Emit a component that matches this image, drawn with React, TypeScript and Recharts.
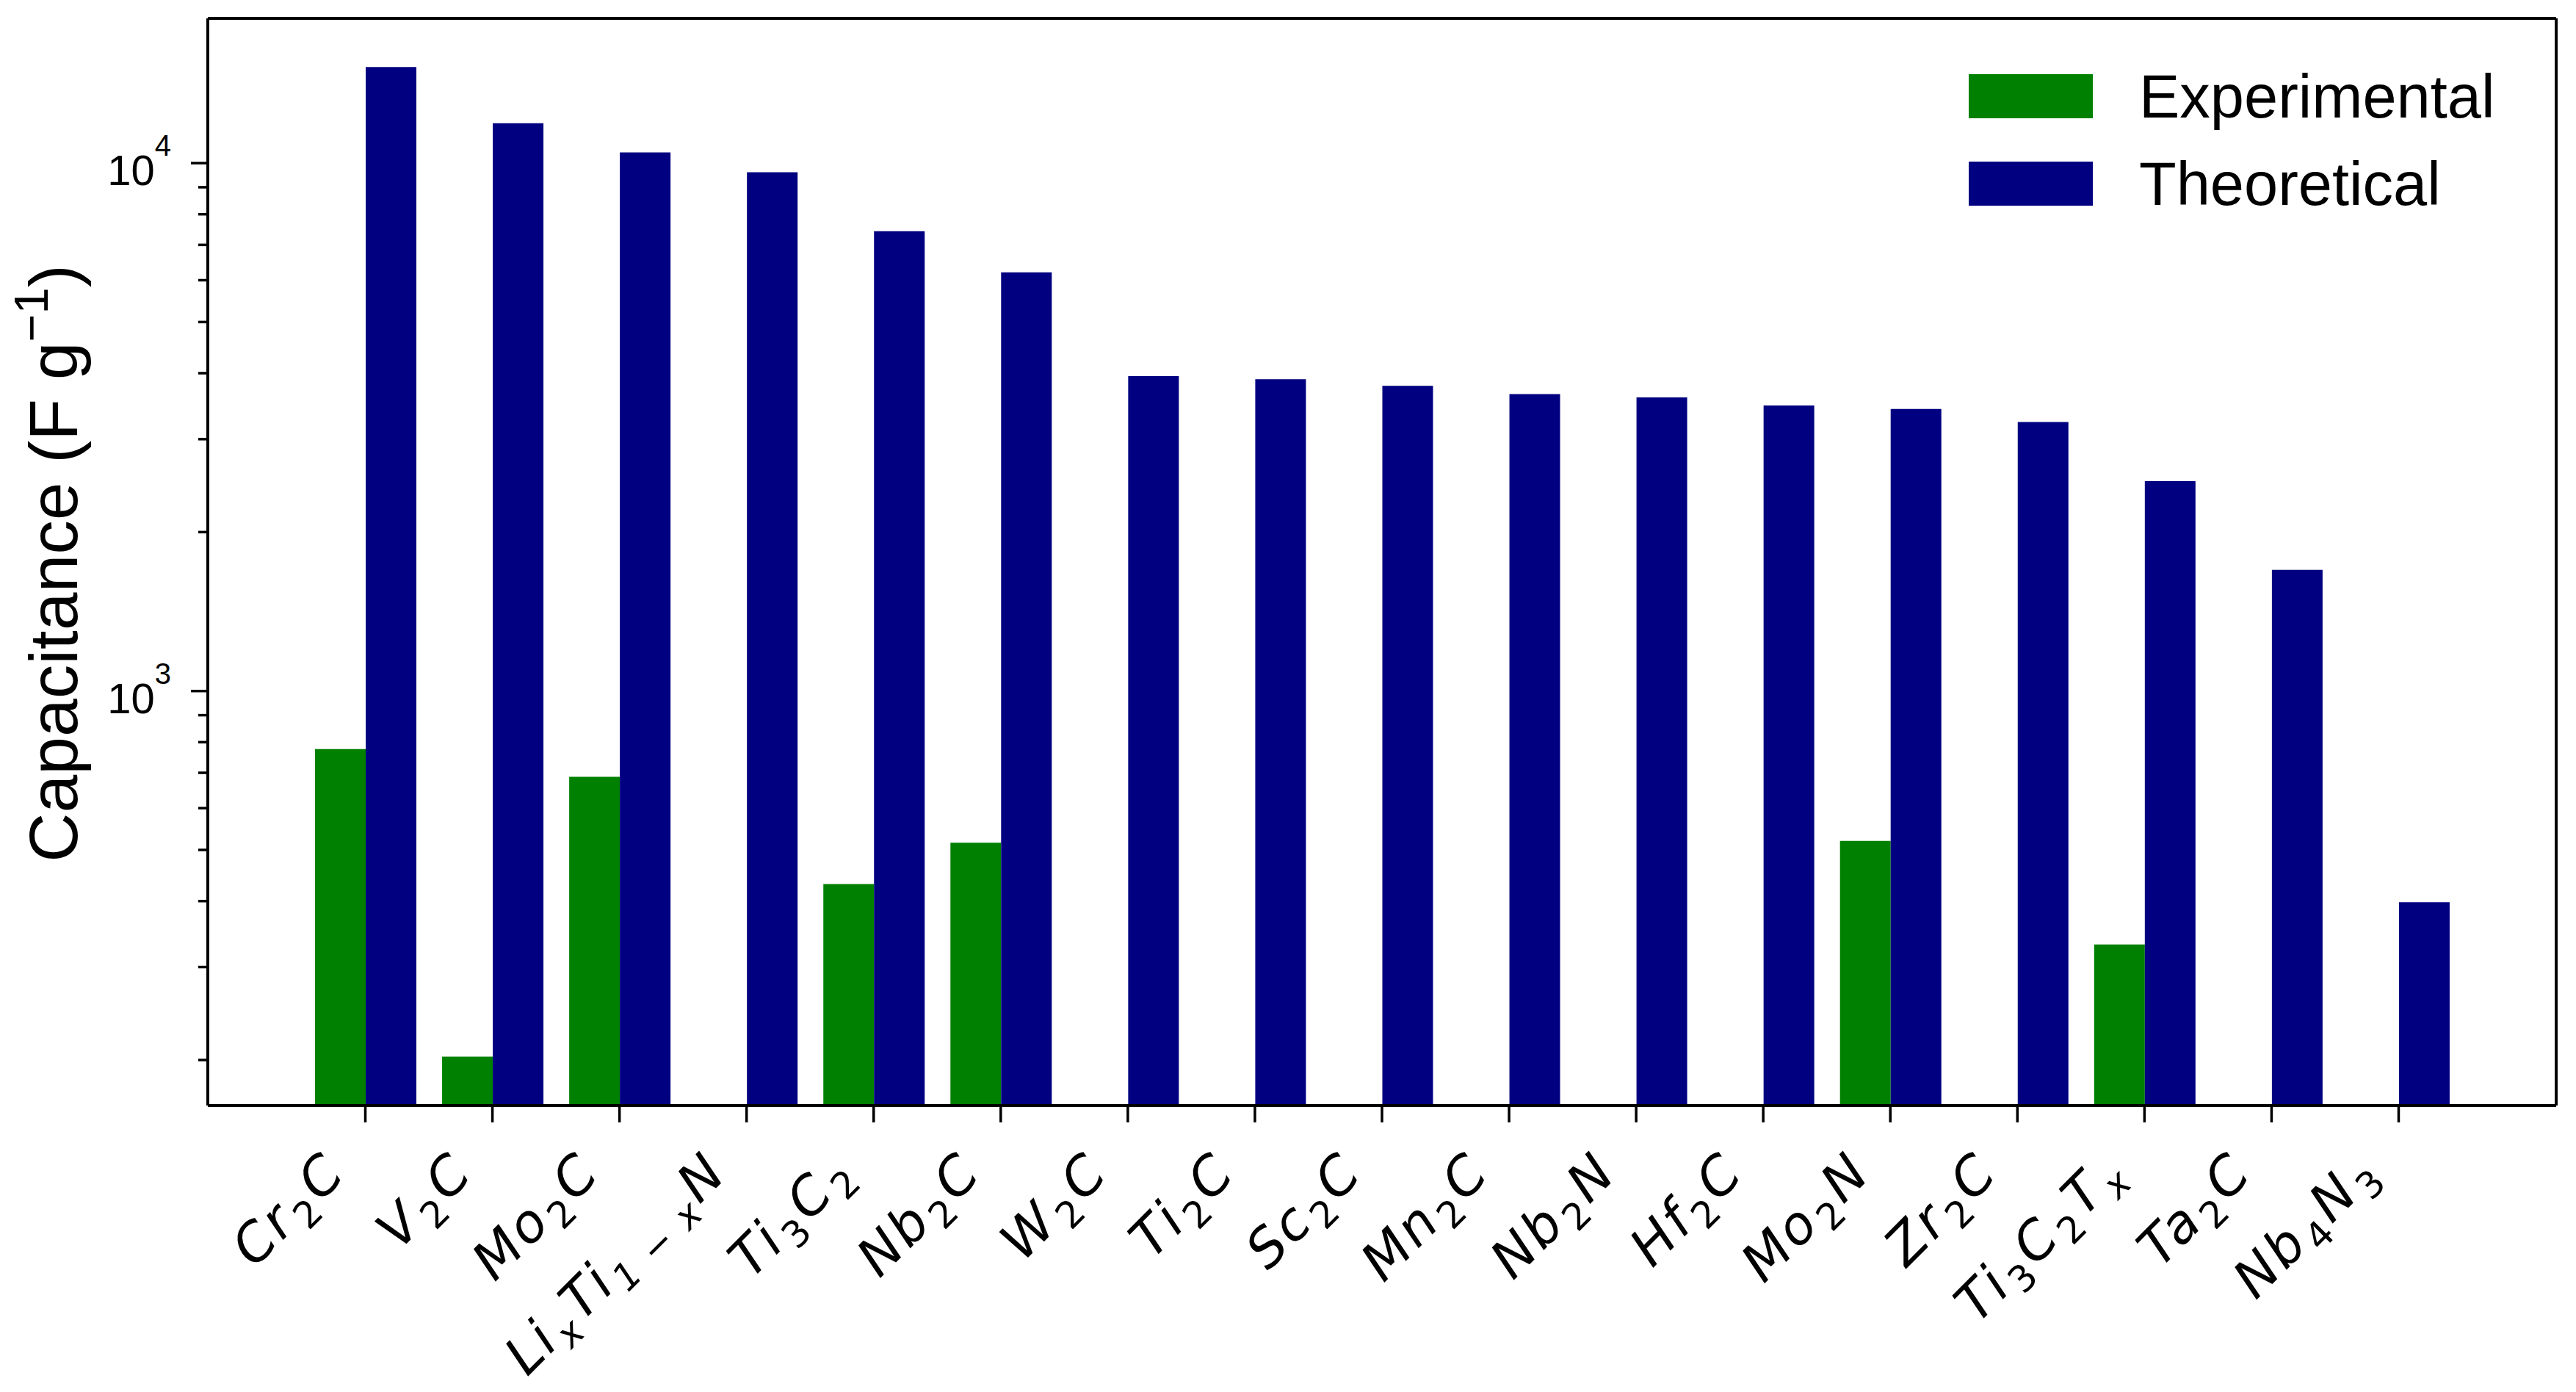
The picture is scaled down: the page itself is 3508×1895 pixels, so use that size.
import React from "react";
import { BarChart, Bar, XAxis, YAxis, Legend, CartesianGrid } from "recharts";

// formulas use _{...} for subscripts
const categories = [
  "Cr_{2}C",
  "V_{2}C",
  "Mo_{2}C",
  "Li_{x}Ti_{1 − x}N",
  "Ti_{3}C_{2}",
  "Nb_{2}C",
  "W_{2}C",
  "Ti_{2}C",
  "Sc_{2}C",
  "Mn_{2}C",
  "Nb_{2}N",
  "Hf_{2}C",
  "Mo_{2}N",
  "Zr_{2}C",
  "Ti_{3}C_{2}T_{x}",
  "Ta_{2}C",
  "Nb_{4}N_{3}",
];

const experimental = [776, 203, 688, null, 431, 516, null, null, null, null, null, null, 520, null, 331, null, null];
const theoretical = [15200, 11900, 10480, 9610, 7430, 6210, 3950, 3895, 3785, 3650, 3600, 3473, 3423, 3232, 2497, 1696, 398];

const majorTicks = [1000, 10000];
const majorTickExponents = ["3", "4"];
const minorTicks = [200, 300, 400, 500, 600, 700, 800, 900, 2000, 3000, 4000, 5000, 6000, 7000, 8000, 9000];
const yDomain = [164, 18800];

const GREEN = "#008000";
const NAVY = "#000080";
const SANS = "'Liberation Sans', Arial, sans-serif";
const MATH = "'DejaVu Sans', sans-serif";
const XFONT = 72;

const data = categories.map((name, i) => ({
  name,
  experimental: experimental[i],
  theoretical: theoretical[i],
}));

const renderFormula = (label: string, size: number) => {
  const parts = label.split(/(_\{[^}]*\})/).filter(Boolean);
  const drop = Math.round(size * 0.22);
  let lowered = false;
  return parts.map((part, i) => {
    if (part.startsWith("_{")) {
      const sub = part.slice(2, -1);
      const dy = lowered ? 0 : drop;
      lowered = true;
      return (
        <tspan key={i} dy={dy} dx={3} fontSize={size * 0.7} fontStyle={/^\d+$/.test(sub) ? "normal" : "italic"}>
          {sub}
        </tspan>
      );
    }
    const dy = lowered ? -drop : 0;
    lowered = false;
    return (
      <tspan key={i} dy={dy} dx={i > 0 ? 3 : 0}>
        {part}
      </tspan>
    );
  });
};

const XTick = (props: any) => {
  const { x, y, payload } = props;
  return (
    <g transform={`translate(${x - 24},${y + 72})`}>
      <text
        transform="rotate(-45)"
        textAnchor="end"
        fontFamily={MATH}
        fontStyle="italic"
        fontSize={XFONT}
        letterSpacing={3}
        fill="#000"
      >
        {renderFormula(payload.value, XFONT)}
      </text>
    </g>
  );
};

const YTick = (props: any) => {
  const { x, y, payload } = props;
  const idx = majorTicks.indexOf(payload.value);
  const major = idx >= 0;
  return (
    <g>
      <line x1={x} x2={x - (major ? 23 : 13)} y1={y} y2={y} stroke="#000" strokeWidth={3.5} />
      {major && (
        <text x={x - 50} y={y + 30} textAnchor="end" fontFamily={SANS} fontSize={58} fill="#000">
          10
          <tspan dy={-40} fontSize={40}>
            {majorTickExponents[idx]}
          </tspan>
        </text>
      )}
    </g>
  );
};

const YLabel = (props: any) => {
  const { viewBox } = props;
  const cx = viewBox.x + 105;
  const cy = viewBox.y + viewBox.height / 2 + 2;
  return (
    <text x={cx} y={cy} transform={`rotate(-90, ${cx}, ${cy})`} textAnchor="middle" fontFamily={SANS} fontSize={93} fill="#000">
      Capacitance (F g
      <tspan dy={-40} fontSize={65}>
        −1
      </tspan>
      <tspan dy={40}>)</tspan>
    </text>
  );
};

const LegendBox = (props: any) => {
  const { payload } = props;
  return (
    <svg width={800} height={300}>
      {(payload || []).map((entry: any, i: number) => (
        <g key={entry.value} transform={`translate(0, ${i * 119})`}>
          <rect x={21} y={21} width={169} height={60} fill={entry.color} />
          <text x={253} y={80} fontFamily={SANS} fontSize={83} fill="#000">
            {entry.value}
          </text>
        </g>
      ))}
    </svg>
  );
};

export default function App() {
  const axisLine = { stroke: "#000", strokeWidth: 4 };
  return (
    <div style={{ position: "absolute", left: 0, top: 0, background: "#fff" }}>
      <BarChart
        width={3508}
        height={1895}
        data={data}
        margin={{ top: 25, right: 27, bottom: 0, left: 0 }}
        barGap={0}
        barSize={69}
      >
        {/* plot frame (top / right spines) */}
        <CartesianGrid
          stroke="#000"
          strokeWidth={4}
          horizontalCoordinatesGenerator={({ offset }: any) => [offset.top, offset.top + offset.height]}
          verticalCoordinatesGenerator={({ offset }: any) => [offset.left, offset.left + offset.width]}
        />
        <XAxis
          dataKey="name"
          interval={0}
          height={390}
          padding={{ left: 128, right: 128 }}
          tickSize={23}
          tickMargin={0}
          tickLine={{ stroke: "#000", strokeWidth: 3.5 }}
          axisLine={axisLine}
          tick={<XTick />}
        />
        <YAxis
          scale="log"
          type="number"
          domain={yDomain}
          allowDataOverflow
          ticks={[...minorTicks, ...majorTicks].sort((a, b) => a - b)}
          interval={0}
          width={283}
          tickSize={0}
          tickMargin={0}
          tickLine={false}
          axisLine={axisLine}
          tick={<YTick />}
          label={<YLabel />}
        />
        <Legend
          layout="horizontal"
          verticalAlign="middle"
          align="center"
          content={<LegendBox />}
          wrapperStyle={{ position: "absolute", left: 2660, top: 80, width: 800, height: 300 }}
        />
        <Bar dataKey="experimental" name="Experimental" fill={GREEN} isAnimationActive={false} />
        <Bar dataKey="theoretical" name="Theoretical" fill={NAVY} isAnimationActive={false} />
      </BarChart>
    </div>
  );
}
